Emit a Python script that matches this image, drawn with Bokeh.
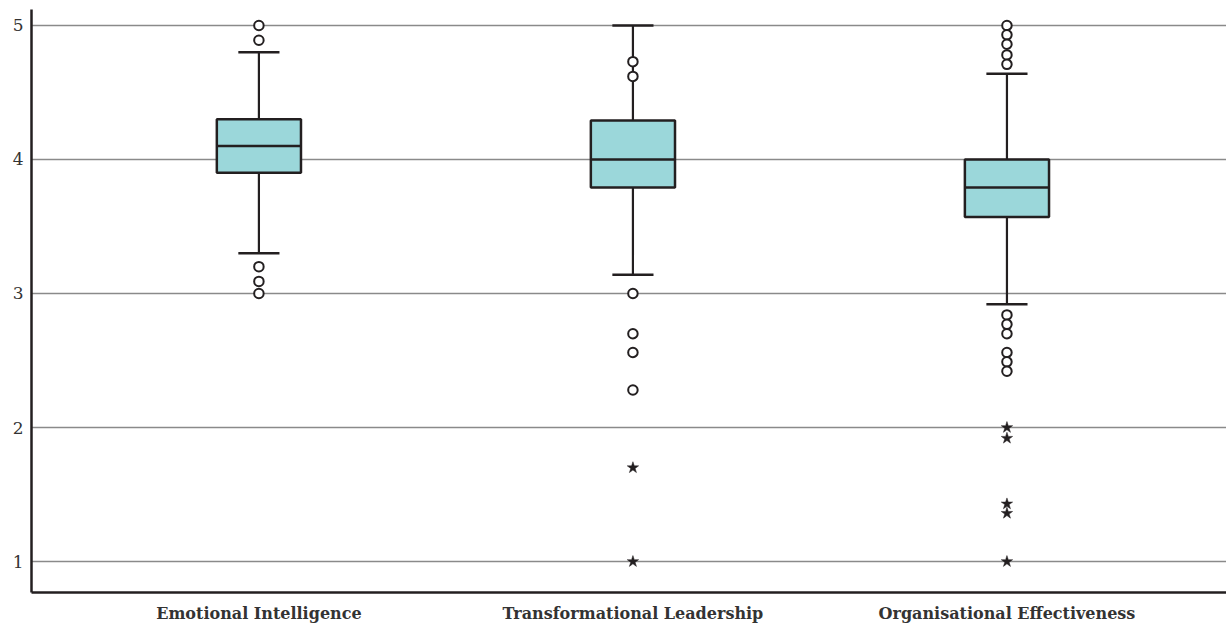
from bokeh.plotting import figure
from bokeh.models import Range1d, FixedTicker, ColumnDataSource
from bokeh.embed import file_html
from bokeh.resources import INLINE

categories = ["Emotional Intelligence", "Transformational Leadership", "Organisational Effectiveness"]
q1 = [3.90, 3.79, 3.57]
median = [4.10, 4.00, 3.79]
q3 = [4.30, 4.29, 4.00]
lower_whisker = [3.30, 3.14, 2.92]
upper_whisker = [4.80, 5.00, 4.64]

# mild outliers (circles) and extreme outliers (stars), per category
outliers_circle = [
    [5.00, 4.89, 3.20, 3.09, 3.00],
    [4.73, 4.62, 3.00, 2.70, 2.56, 2.28],
    [5.00, 4.93, 4.86, 4.78, 4.71, 2.84, 2.77, 2.70, 2.56, 2.49, 2.42],
]
outliers_star = [
    [],
    [1.70, 1.00],
    [2.00, 1.92, 1.43, 1.36, 1.00],
]
y_ticks = [1, 2, 3, 4, 5]

DARK = "#231F20"
FILL = "#9BD7DA"
FONT = "DejaVu Serif"

xpos = [i + 1 for i in range(len(categories))]
box_w = 0.225
cap_w = 0.11

p = figure(width=1226, height=625, output_backend="svg", toolbar_location=None,
           x_range=Range1d(0.392, 3.587), y_range=Range1d(0.769, 5.119),
           min_border_left=31, min_border_right=0, min_border_top=9, min_border_bottom=33)
p.outline_line_color = None
p.background_fill_color = "white"

# grid
p.xgrid.grid_line_color = None
p.ygrid.grid_line_color = "#8A8A8A"
p.ygrid.grid_line_width = 1.5
p.ygrid.ticker = FixedTicker(ticks=y_ticks)

src = ColumnDataSource(dict(x=xpos, q1=q1, q3=q3, med=median, lw=lower_whisker, uw=upper_whisker,
                            x0=[x - cap_w / 2 for x in xpos], x1=[x + cap_w / 2 for x in xpos],
                            bx0=[x - box_w / 2 for x in xpos], bx1=[x + box_w / 2 for x in xpos]))

# whiskers
p.segment(x0="x", y0="q3", x1="x", y1="uw", source=src, line_color=DARK, line_width=2.2)
p.segment(x0="x", y0="q1", x1="x", y1="lw", source=src, line_color=DARK, line_width=2.2)
# caps
p.segment(x0="x0", y0="uw", x1="x1", y1="uw", source=src, line_color=DARK, line_width=2.5)
p.segment(x0="x0", y0="lw", x1="x1", y1="lw", source=src, line_color=DARK, line_width=2.5)
# boxes
p.vbar(x="x", width=box_w, bottom="q1", top="q3", source=src, fill_color=FILL,
       line_color=DARK, line_width=2.5)
# median
p.segment(x0="bx0", y0="med", x1="bx1", y1="med", source=src, line_color=DARK, line_width=2.5)

# outliers
cx, cy, sx, sy = [], [], [], []
for i, x in enumerate(xpos):
    for v in outliers_circle[i]:
        cx.append(x); cy.append(v)
    for v in outliers_star[i]:
        sx.append(x); sy.append(v)
p.scatter(cx, cy, marker="circle", size=9.5, fill_color="white", line_color=DARK, line_width=2)
p.scatter(sx, sy, marker="star", size=12, fill_color=DARK, line_color=DARK, line_width=0.5)

# axes
p.yaxis.ticker = FixedTicker(ticks=y_ticks)
p.yaxis.axis_line_color = DARK
p.yaxis.axis_line_width = 2.5
p.yaxis.major_tick_line_color = None
p.yaxis.minor_tick_line_color = None
p.yaxis.major_label_text_font = FONT
p.yaxis.major_label_text_font_size = "17px"
p.yaxis.major_label_text_color = "#333333"
p.yaxis.major_label_standoff = 2

p.xaxis.ticker = FixedTicker(ticks=xpos)
p.xaxis.major_label_overrides = {x: c for x, c in zip(xpos, categories)}
p.xaxis.axis_line_color = DARK
p.xaxis.axis_line_width = 2.5
p.xaxis.major_tick_line_color = None
p.xaxis.minor_tick_line_color = None
p.xaxis.major_label_text_font = FONT
p.xaxis.major_label_text_font_style = "bold"
p.xaxis.major_label_text_font_size = "16px"
p.xaxis.major_label_text_color = "#333333"
p.xaxis.major_label_standoff = 5

open("out.html", "w").write(file_html(p, INLINE))
